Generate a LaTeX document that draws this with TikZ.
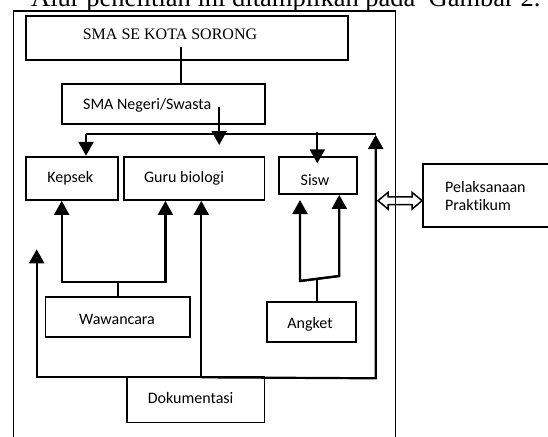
\documentclass[tikz,border=0pt]{standalone}
\usepackage{fontspec}
\setmainfont{Liberation Serif}
\newfontfamily\carlito[Ligatures=NoCommon]{Carlito}
\usetikzlibrary{arrows.meta,calc}
\tikzset{
  box/.style={draw, line width=1.8pt, rectangle, inner sep=0pt},
  lbl/.style={font=\carlito\fontsize{16}{18.3}\selectfont, inner sep=0pt},
  conn/.style={line width=2.2pt},
  arr/.style={conn, -{Triangle[width=15pt,length=14pt]}},
  framel/.style={line width=1.5pt},
}
\newcommand\bx[5]{\node[box, minimum width={(#4-#2)*1pt}, minimum height={(#5-#3)*1pt}] (#1) at ({(#2+#4)/2},{(#3+#5)/2}) {};}
\begin{document}
\begin{tikzpicture}[x=1pt,y=-1pt]
\useasboundingbox (0,0) rectangle (548,436);
% caption
\node[anchor=base west, inner sep=0pt, font=\fontsize{26.5}{30}\selectfont] (cap) at (31,7) {Alur penelitian ini ditampilkan pada\ \ Gambar 2.};
% boxes
\bx{sma}{25.7}{15.7}{347.7}{60.3}
\bx{neg}{61.9}{84}{264.7}{124}
\bx{kep}{26}{156.7}{117.7}{200}
\bx{guru}{124.1}{156.7}{264.5}{200}
\bx{sisw}{279.3}{156.7}{356.7}{194}
\bx{prak}{423}{164}{570}{226.7}
\bx{waw}{45.5}{296.7}{190}{336.7}
\bx{ang}{266.8}{302.3}{356}{341.7}
\bx{dok}{126.6}{376.7}{264.5}{422.5}
% texts
\node[anchor=base, inner sep=0pt, font=\fontsize{16}{19}\selectfont] (smat) at (170,40) {SMA SE KOTA SORONG};
\node[lbl] (negt) at (147.2,105.7) {SMA Negeri/Swasta};
\node[lbl] (kept) at (70.3,178.3) {Kepsek};
\node[lbl] (gurut) at (184,178.3) {Guru biologi};
\node[lbl] (siswt) at (315,180) {Sisw};
\node[lbl, anchor=west, align=left] (prakt) at (445,195.8) {Pelaksanaan\\Praktikum};
\node[lbl] (wawt) at (117,319.3) {Wawancara};
\node[lbl] (angt) at (310,324) {Angket};
\node[lbl] (dokt) at (190.6,398.3) {Dokumentasi};
% top connectors
\coordinate (s1) at (181,46.7);
\draw[conn] (s1) -- (s1 |- neg.north);
\coordinate (n1) at (219.2,106.7);
\draw[arr] (n1) -- (219.2,145);
\coordinate (hl) at (86,134);
\coordinate (hr) at (375.7,134);
\draw[conn] (hl) -- (hr);
\draw[arr] (hl) -- (hl |- kep.north);
\draw[arr] (317.3,132.3) -- (317.3,163.3);
% wawancara connectors
\coordinate (wl) at (61.7,281.7);
\coordinate (wr) at (165.4,281.7);
\draw[conn] (waw.north) -- (waw.north |- wl);
\draw[arr] (wr) -- (wl) -- (wl |- kep.south);
\draw[arr] (wl) -- (wr) -- (wr |- guru.south);
% angket connectors
\coordinate (al) at (300,281);
\coordinate (ar) at (339.3,276);
\draw[arr] (ar) -- (al) -- (300,200);
\draw[arr] (al) -- (ar) -- (ar |- sisw.south);
\draw[conn] (ang.north -| 317,0) -- (317,279);
% dokumentasi loop
\coordinate (dj) at (201.3,377.3);
\draw[arr] (dj) -- (36.7,377.3) -- (36.7,249.3);
\draw[arr] (dj) -- (dj |- guru.south);
\draw[arr] (dj) -- (375.7,378.3) -- (375.7,135);
% double arrow to Pelaksanaan
\coordinate (dl) at (378,200.7);
\coordinate (dr) at (prak.west |- dl);
\draw[line width=1.5pt, fill=white, line join=miter]
  (dl) -- ++(10,-8.3) -- ++(0,4.5) -- ($(dr)+(-10,-3.8)$) -- ++(0,-4.5) -- (dr)
  -- ++(-10,8.3) -- ++(0,-4.5) -- ($(dl)+(10,3.8)$) -- ++(0,4.5) -- cycle;
% frame
\draw[framel] (13.3,445) -- (13.3,11) -- (395.5,11) -- (395.5,445);
\end{tikzpicture}
\end{document}
